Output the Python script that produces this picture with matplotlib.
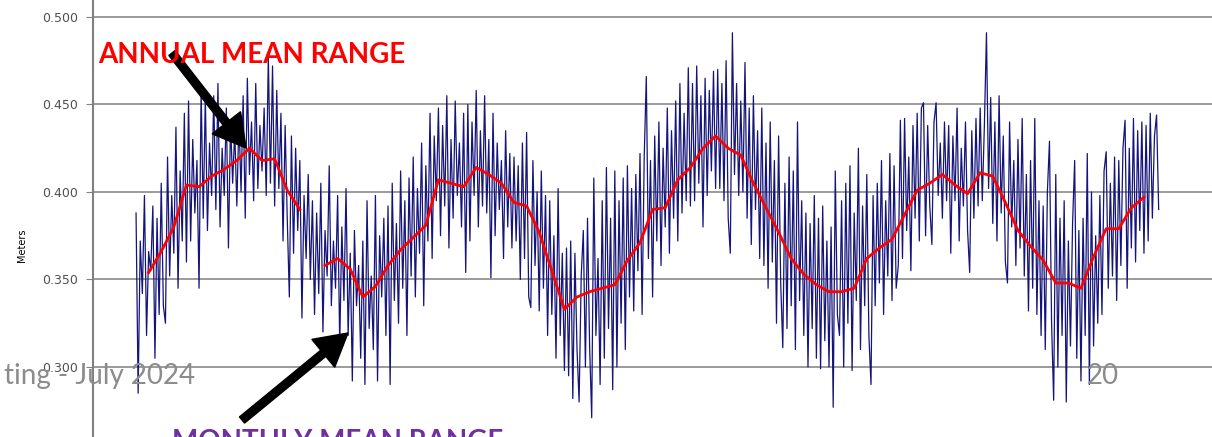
import numpy as np
import matplotlib
matplotlib.use("Agg")
import matplotlib.pyplot as plt
from matplotlib.patches import FancyArrow
from matplotlib.transforms import IdentityTransform

# monthly mean tide range (m), one row per year
monthly_range = [
    .388, .285, .372, .342, .398, .318, .366, .355, .392, .305, .385, .330,
    .405, .335, .325, .420, .352, .398, .365, .437, .345, .412, .372, .445,
    .360, .452, .372, .430, .388, .418, .345, .459, .385, .455, .378, .428,
    .398, .455, .390, .462, .380, .425, .398, .448, .368, .440, .405, .435,
    .392, .442, .400, .455, .385, .465, .410, .440, .395, .462, .402, .438,
    .412, .448, .398, .478, .405, .472, .392, .458, .402, .445, .372, .438,
    .385, .340, .432, .365, .425, .378, .418, .328, .398, .362, .410, .350,
    .395, .330, .388, .342, .405, .320, .378, .352, .415, .335, .372, .345,
    .398, .312, .380, .338, .402, .318, .365, .292, .378, .335, .358, .305,
    .372, .290, .395, .322, .352, .310, .398, .292, .375, .340, .385, .318,
    .392, .290, .405, .338, .382, .325, .412, .345, .395, .318, .408, .352,
    .420, .340, .402, .365, .428, .335, .415, .372, .445, .362, .432, .395,
    .448, .375, .438, .392, .455, .368, .430, .385, .452, .398, .428, .380,
    .445, .354, .450, .372, .440, .398, .458, .380, .435, .392, .455, .388,
    .430, .351, .445, .375, .428, .390, .418, .362, .435, .380, .422, .368,
    .420, .372, .415, .350, .428, .362, .434, .340, .334, .418, .358, .400,
    .332, .412, .345, .398, .318, .395, .330, .375, .305, .402, .318, .365,
    .298, .368, .295, .372, .282, .365, .310, .280, .352, .378, .300, .385,
    .312, .271, .408, .318, .362, .290, .395, .305, .414, .322, .385, .287,
    .412, .300, .395, .325, .408, .310, .415, .340, .402, .332, .410, .355,
    .422, .330, .420, .466, .362, .418, .340, .432, .372, .440, .358, .425,
    .380, .448, .365, .435, .385, .452, .372, .462, .388, .445, .395, .471,
    .392, .462, .395, .472, .405, .455, .380, .465, .398, .458, .412, .469,
    .402, .470, .402, .462, .395, .475, .385, .365, .491, .410, .462, .398,
    .452, .400, .474, .385, .448, .370, .455, .390, .435, .362, .448, .358,
    .428, .345, .440, .360, .418, .325, .432, .348, .311, .405, .322, .420,
    .335, .412, .310, .440, .338, .395, .318, .388, .300, .382, .322, .398,
    .305, .385, .299, .392, .315, .372, .300, .380, .277, .412, .330, .318,
    .395, .300, .405, .325, .415, .298, .388, .338, .425, .310, .392, .335,
    .410, .318, .290, .398, .335, .405, .348, .418, .330, .395, .352, .422,
    .338, .415, .345, .358, .441, .362, .442, .378, .420, .355, .438, .385,
    .445, .372, .448, .451, .375, .438, .392, .370, .440, .451, .398, .428,
    .385, .440, .395, .438, .365, .432, .395, .448, .372, .425, .392, .440,
    .378, .354, .435, .385, .442, .392, .448, .395, .438, .491, .402, .454,
    .382, .440, .372, .455, .388, .432, .360, .348, .440, .380, .418, .358,
    .430, .368, .442, .352, .410, .332, .418, .345, .442, .330, .395, .318,
    .392, .310, .400, .429, .325, .281, .410, .300, .385, .318, .395, .280,
    .372, .312, .382, .418, .305, .378, .292, .385, .318, .422, .290, .400,
    .312, .375, .325, .398, .330, .412, .423, .345, .405, .352, .420, .338,
    .418, .358, .425, .441, .345, .425, .368, .442, .360, .435, .378, .440,
    .365, .438, .372, .445, .385, .432, .444, .390,
]

# annual mean range, plotted every 6 months (nan = missing year)
annual_range = [
    .354, .366, .380, .404, .403, .409, .413, .418, .425, .418, .419, .401, .390,
    np.nan,
    .358, .362, .356, .340, .346, .358, .367, .374, .381, .407, .405, .403,
    .414, .410, .405, .394, .392, .377, .355, .333, .340, .343, .345, .347,
    .361, .371, .390, .391, .407, .414, .425, .432, .425, .421, .405, .391,
    .377, .362, .353, .347, .343, .343, .345, .362, .368, .373, .387, .401,
    .405, .410, .404, .399, .411, .409, .394, .378, .369, .361, .348, .348,
    .345, .363, .379, .379, .391, .397,
]

yticks = [0.300, 0.350, 0.400, 0.450, 0.500]

months = np.arange(len(monthly_range))
annual_months = 6 * (np.arange(len(annual_range)) + 1)

W, H = 1212, 437
fig = plt.figure(figsize=(W / 100, H / 100), dpi=100)
ax = fig.add_axes([93 / W, 0, 1 - 93 / W, 1])

ax.plot(months, monthly_range, color="#14147a", lw=0.9, zorder=2)
ax.plot(annual_months, annual_range, color="#ff0000", lw=2.0, zorder=3)

ax.set_xlim(-20.5, 512.4)
ax.set_ylim(0.260, 0.5097)
ax.set_yticks(yticks)
ax.set_yticklabels(["%.3f" % v for v in yticks], fontsize=9, color="#505050")
ax.set_xticks([])
for y in yticks:
    ax.axhline(y, color="#8a8a8a", lw=1.2, zorder=1)
for s in ["top", "right", "bottom"]:
    ax.spines[s].set_visible(False)
ax.spines["left"].set_color("#808080")
ax.spines["left"].set_linewidth(1.5)
ax.tick_params(axis="y", direction="out", length=5, color="#808080", pad=6)

fig.text(22 / W, 1 - 245 / H, "Meters", rotation=90, fontsize=7,
         ha="center", va="center")

# slide footer bleeding through
fig.text(195 / W, 1 - 384 / H, "ting - July 2024", fontsize=20, family="Lato",
         color="#8c8c8c", ha="right", va="baseline")
fig.text(1087 / W, 1 - 384 / H, "20", fontsize=20, family="Lato",
         color="#8c8c8c", ha="left", va="baseline")

fig.text(98 / W, 1 - 63 / H, "ANNUAL MEAN RANGE", fontsize=20, family="Lato",
         weight="bold", color="#ff0000", ha="left", va="baseline")
fig.text(172 / W, 1 - 450 / H, "MONTHLY MEAN RANGE", fontsize=20, family="Lato",
         weight="bold", color="#7030a0", ha="left", va="baseline")

for (x0, y0), (x1, y1) in [((172, 53), (246, 148)), ((242, 420), (348, 333))]:
    arr = FancyArrow(x0, H - y0, x1 - x0, y0 - y1, width=8, head_width=36,
                     head_length=32, length_includes_head=True,
                     color="black", transform=IdentityTransform())
    fig.add_artist(arr)

fig.savefig("out.png", dpi=100)
